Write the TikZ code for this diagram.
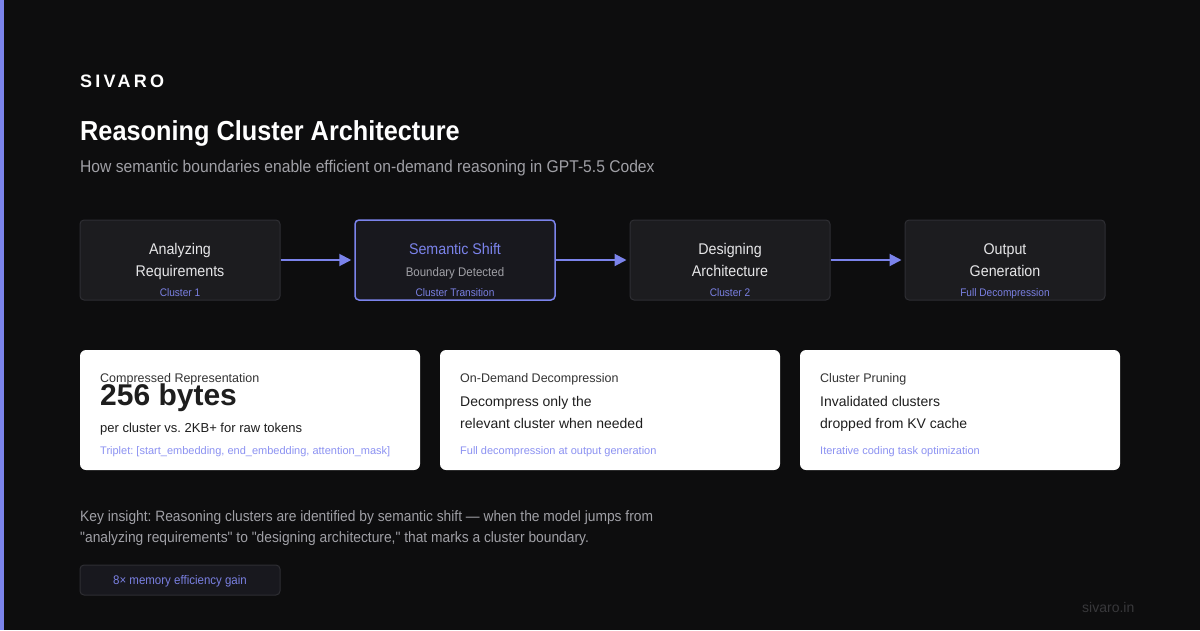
\documentclass[tikz,border=0pt]{standalone}
\usepackage{fontspec}
\setmainfont{Liberation Sans}
\newfontfamily\condfont[FakeStretch=0.92]{Liberation Sans}
\newfontfamily\logofont[LetterSpace=18]{Liberation Sans}
\usetikzlibrary{arrows.meta}
\frenchspacing

\definecolor{bgc}{HTML}{0D0D0E}
\definecolor{accent}{HTML}{7B83EB}
\definecolor{tagc}{HTML}{7A80E2}
\definecolor{tripc}{HTML}{8C92F2}
\definecolor{boxfill}{HTML}{1C1C1F}
\definecolor{boxline}{HTML}{2E2E33}
\definecolor{shiftfill}{HTML}{18181E}
\definecolor{lighttxt}{HTML}{E6E6E8}
\definecolor{greytxt}{HTML}{A0A0A6}
\definecolor{cardhead}{HTML}{333333}
\definecolor{cardtxt}{HTML}{1E1E1E}
\definecolor{footc}{HTML}{38383B}

\newcommand{\fsz}[1]{\fontsize{#1}{#1}\selectfont}

\tikzset{
  txt/.style={inner sep=0pt,anchor=base west},
  ctxt/.style={inner sep=0pt,anchor=base},
  stage/.style={draw=boxline,fill=boxfill,line width=1pt,rounded corners=4pt,
    minimum width=200pt,minimum height=80pt,inner sep=0pt},
  card/.style={fill=white,rounded corners=6pt,minimum width=340pt,
    minimum height=120pt,inner sep=0pt},
  flow/.style={accent,line width=2pt,shorten >=3pt,
    -{Triangle[length=12pt,width=12pt]}},
}

\begin{document}
\begin{tikzpicture}[x=1pt,y=-1pt]
% background and accent bar
\fill[bgc] (0,0) rectangle (1200,630);
\fill[accent] (0,0) rectangle (4,630);

% header
\node[txt,text=white,font=\logofont\bfseries\fsz{18}] (logo) at (80,87) {SIVARO};
\node[txt,text=white,font=\condfont\bfseries\fsz{27.5}] (title) at (80,140) {Reasoning Cluster Architecture};
\node[txt,text=greytxt,font=\condfont\fsz{17}] (subtitle) at (80,172) {How semantic boundaries enable efficient on-demand reasoning in GPT-5.5 Codex};

% stages
\node[stage] (s1) at (180,260) {};
\node[stage,draw=accent,fill=shiftfill,line width=1.5pt] (s2) at (455,260) {};
\node[stage] (s3) at (730,260) {};
\node[stage] (s4) at (1005,260) {};

\node[ctxt,text=lighttxt,font=\condfont\fsz{15.5}] (s1a) at (180,254) {Analyzing};
\node[ctxt,text=lighttxt,font=\condfont\fsz{15.5}] (s1b) at (180,276) {Requirements};
\node[ctxt,text=tagc,font=\condfont\fsz{11}] (s1c) at (180,296) {Cluster 1};

\node[ctxt,text=accent,font=\condfont\fsz{15.5}] (s2a) at (455,254) {Semantic Shift};
\node[ctxt,text=greytxt,font=\condfont\fsz{12.5}] (s2b) at (455,276) {Boundary Detected};
\node[ctxt,text=tagc,font=\condfont\fsz{11}] (s2c) at (455,296) {Cluster Transition};

\node[ctxt,text=lighttxt,font=\condfont\fsz{15.5}] (s3a) at (730,254) {Designing};
\node[ctxt,text=lighttxt,font=\condfont\fsz{15.5}] (s3b) at (730,276) {Architecture};
\node[ctxt,text=tagc,font=\condfont\fsz{11}] (s3c) at (730,296) {Cluster 2};

\node[ctxt,text=lighttxt,font=\condfont\fsz{15.5}] (s4a) at (1005,254) {Output};
\node[ctxt,text=lighttxt,font=\condfont\fsz{15.5}] (s4b) at (1005,276) {Generation};
\node[ctxt,text=tagc,font=\condfont\fsz{11}] (s4c) at (1005,296) {Full Decompression};

\draw[flow] (s1) -- (s2);
\draw[flow] (s2) -- (s3);
\draw[flow] (s3) -- (s4);

% cards
\node[card] (c1) at (250,410) {};
\node[card] (c2) at (610,410) {};
\node[card,minimum width=320pt] (c3) at (960,410) {};

\node[txt,text=cardhead,font=\fsz{12.5}] (c1h) at (100,382) {Compressed Representation};
\node[txt,text=cardtxt,font=\bfseries\fsz{30}] (c1v) at (100,405) {256 bytes};
\node[txt,text=cardtxt,font=\fsz{13}] (c1t) at (100,432) {per cluster vs. 2KB+ for raw tokens};
\node[txt,text=tripc,font=\fsz{11}] (c1n) at (100,454) {Triplet: [start\_embedding, end\_embedding, attention\_mask]};

\node[txt,text=cardhead,font=\fsz{12.5}] (c2h) at (460,382) {On-Demand Decompression};
\node[txt,text=cardtxt,font=\fsz{14}] (c2t) at (460,406) {Decompress only the};
\node[txt,text=cardtxt,font=\fsz{14}] (c2u) at (460,428) {relevant cluster when needed};
\node[txt,text=tripc,font=\fsz{11}] (c2n) at (460,454) {Full decompression at output generation};

\node[txt,text=cardhead,font=\fsz{12.5}] (c3h) at (820,382) {Cluster Pruning};
\node[txt,text=cardtxt,font=\fsz{14}] (c3t) at (820,406) {Invalidated clusters};
\node[txt,text=cardtxt,font=\fsz{14}] (c3u) at (820,428) {dropped from KV cache};
\node[txt,text=tripc,font=\fsz{11}] (c3n) at (820,454) {Iterative coding task optimization};

% insight and badge
\node[txt,text=greytxt,font=\condfont\fsz{15}] (ins1) at (80,521) {Key insight: Reasoning clusters are identified by semantic shift — when the model jumps from};
\node[txt,text=greytxt,font=\condfont\fsz{15}] (ins2) at (80,542) {"analyzing requirements" to "designing architecture," that marks a cluster boundary.};

\node[stage,fill=shiftfill,minimum height=30pt] (gain) at (180,580) {};
\node[ctxt,text=tagc,font=\condfont\fsz{12.5}] (gaint) at (180,584.5) {8× memory efficiency gain};

\node[txt,text=footc,font=\fsz{14}] (site) at (1082,612) {sivaro.in};
\end{tikzpicture}
\end{document}
